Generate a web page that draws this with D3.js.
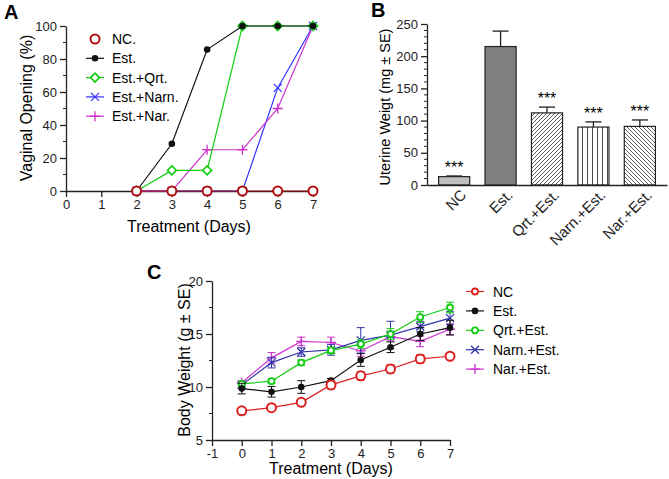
<!DOCTYPE html>
<html><head><meta charset="utf-8">
<script src="https://cdn.jsdelivr.net/npm/d3@7"></script>
<style>body{margin:0;background:#fff}svg{font-family:"Liberation Sans",Arial,sans-serif}</style>
</head><body>
<script>
// ---- Panel A data ----
const daysA = [0,1,2,3,4,5,6,7];
const seriesA = ["NC.","Est.","Est.+Qrt.","Est.+Narn.","Est.+Nar."];
const dA_days = [2,3,4,5,6,7];
const vA_NC   = [0,0,0,0,0,0];
const vA_Est  = [0,28.6,85.7,100,100,100];
const vA_Qrt  = [0,12.5,12.5,100,100,100];
const vA_Narn = [0,0,0,0,62.5,100];
const vA_Nar  = [0,0,25,25,50,100];
const ticksA_y = [0,20,40,60,80,100];
// ---- Panel B data ----
const catsB = ["NC","Est.","Qrt.+Est.","Narn.+Est.","Nar.+Est."];
const valsB = [13,215,112,90,91];
const errB  = [1,24,9,8,10];
const sigB  = ["***","","***","***","***"];
const ticksB_y = [0,50,100,150,200,250];
// ---- Panel C data ----
const daysC = [0,1,2,3,4,5,6,7];
const seriesC = ["NC","Est.","Qrt.+Est.","Narn.+Est.","Nar.+Est."];
const vC_NC   = [7.75,8.05,8.55,10.2,11.05,11.7,12.65,12.9];
const eC_NC   = [0.2,0.25,0.25,0.4,0.4,0.4,0.4,0.25];
const vC_Est  = [9.85,9.55,10.0,10.6,12.55,13.75,15.0,15.6];
const eC_Est  = [0.5,0.5,0.6,0.2,0.6,0.5,0.6,0.7];
const vC_Qrt  = [10.3,10.55,12.3,13.45,14.05,15.0,16.6,17.5];
const eC_Qrt  = [0.2,0.2,0.25,0.3,0.4,0.5,0.5,0.5];
const vC_Narn = [10.2,12.3,13.3,13.5,14.4,14.9,15.7,16.5];
const eC_Narn = [0.2,0.5,0.4,0.5,1.2,1.3,0.5,0.6];
const vC_Nar  = [10.4,12.75,14.3,14.2,13.4,14.75,14.3,15.45];
const eC_Nar  = [0.2,0.5,0.4,0.5,0.5,0.4,0.5,0.5];
const ticksC_y = [5,10,15,20];
const ticksC_x = [-1,0,1,2,3,4,5,6,7];

const W=669,H=479;
const svg=d3.select("body").append("svg").attr("width",W).attr("height",H);
const defs=svg.append("defs");
function hatch(id,lines){
  const p=defs.append("pattern").attr("id",id).attr("patternUnits","userSpaceOnUse").attr("width",4).attr("height",4);
  p.append("rect").attr("width",4).attr("height",4).attr("fill","#fff");
  lines.forEach(l=>p.append("path").attr("d",l).attr("stroke","#333").attr("stroke-width",0.8));
}
hatch("hFwd",["M-1,1 L1,-1","M0,4 L4,0","M3,5 L5,3"]);
hatch("hBack",["M-1,3 L1,5","M0,0 L4,4","M3,-1 L5,1"]);
const pv=defs.append("pattern").attr("id","hVert").attr("patternUnits","userSpaceOnUse").attr("width",5).attr("height",5);
pv.append("rect").attr("width",5).attr("height",5).attr("fill","#fff");
pv.append("path").attr("d","M2.5,0 L2.5,5").attr("stroke","#333").attr("stroke-width",0.9);

const fmt = d => String(d);
function marker(g,type,x,y,color){
  if(type==="circle") g.append("circle").attr("cx",x).attr("cy",y).attr("r",4.5).attr("fill","#fff").attr("stroke",color).attr("stroke-width",2);
  else if(type==="smallcircle") g.append("circle").attr("cx",x).attr("cy",y).attr("r",3).attr("fill","#fff").attr("stroke",color).attr("stroke-width",1.8);
  else if(type==="dot") g.append("circle").attr("cx",x).attr("cy",y).attr("r",3.3).attr("fill",color);
  else if(type==="diamond") g.append("path").attr("d",`M${x},${y-4.5}L${x+4.5},${y}L${x},${y+4.5}L${x-4.5},${y}Z`).attr("fill","#fff").attr("stroke",color).attr("stroke-width",1.6);
  else if(type==="x") g.append("path").attr("d",`M${x-4},${y-4}L${x+4},${y+4}M${x-4},${y+4}L${x+4},${y-4}`).attr("stroke",color).attr("stroke-width",1.3);
  else if(type==="plus") g.append("path").attr("d",`M${x-5},${y}L${x+5},${y}M${x},${y-5}L${x},${y+5}`).attr("stroke",color).attr("stroke-width",1.3);
}
function styleAxis(g){g.selectAll("path,line").attr("stroke","#222").attr("stroke-width",1.3);g.selectAll("text").attr("fill","#222").style("font-size","13px");}
function minorTicks(g,scale,vals,len){
  vals.forEach(v=>{const p=scale(v);
    g.append("line").attr("x1",0).attr("x2",-len).attr("y1",p).attr("y2",p).attr("stroke","#222").attr("stroke-width",1);
  });
}

// ================= Panel A =================
{
const x=d3.scaleLinear().domain([0,7]).range([66,313]);
const y=d3.scaleLinear().domain([0,100]).range([191,26]);
const gA=svg.append("g");
const ya=gA.append("g").attr("transform","translate(66,0)").call(d3.axisLeft(y).tickValues(ticksA_y).tickFormat(fmt).tickSize(6).tickSizeOuter(0).tickPadding(3));
styleAxis(ya);
const ym=gA.append("g").attr("transform","translate(66,0)");
minorTicks(ym,y,[10,30,50,70,90],3);
const xa=gA.append("g").attr("transform","translate(0,191)").call(d3.axisBottom(x).tickValues(daysA).tickFormat(fmt).tickSize(6).tickSizeOuter(0).tickPadding(3));
styleAxis(xa);
gA.append("text").attr("x",189).attr("y",232).attr("text-anchor","middle").style("font-size","16px").text("Treatment (Days)");
gA.append("text").attr("transform","translate(32,108) rotate(-90)").attr("text-anchor","middle").style("font-size","16px").text("Vaginal Opening (%)");
gA.append("text").attr("x",4).attr("y",19).style("font-size","20px").style("font-weight","bold").text("A");
const defsA=[
  {vals:vA_Narn,color:"#3333ff",m:"x"},
  {vals:vA_Nar,color:"#cc33cc",m:"plus"},
  {vals:vA_Qrt,color:"#11cc11",m:"diamond"},
  {vals:vA_Est,color:"#111",m:"dot"},
  {vals:vA_NC,color:"#b01010",m:"circle"}];
const line=d3.line().x((d,i)=>x(dA_days[i])).y(d=>y(d));
defsA.forEach(s=>{
  gA.append("path").datum(s.vals).attr("d",line).attr("fill","none").attr("stroke",s.color).attr("stroke-width",1.2);
  s.vals.forEach((v,i)=>marker(gA,s.m,x(dA_days[i]),y(v),s.color));
});
const legA=[{c:"#b01010",m:"circle",line:false},{c:"#111",m:"dot",line:true},{c:"#11cc11",m:"diamond",line:true},{c:"#3333ff",m:"x",line:true},{c:"#cc33cc",m:"plus",line:true}];
seriesA.forEach((n,i)=>{
  const yy=39+i*19.3;
  if(legA[i].line) gA.append("line").attr("x1",86).attr("x2",104).attr("y1",yy).attr("y2",yy).attr("stroke",legA[i].c).attr("stroke-width",1.2);
  marker(gA,legA[i].m,95,yy,legA[i].c);
  gA.append("text").attr("x",112).attr("y",yy+5).style("font-size","14px").text(n);
});
}

// ================= Panel B =================
{
const x=d3.scaleBand().domain(catsB).range([427,667]).paddingInner(0.33).paddingOuter(0.25);
const y=d3.scaleLinear().domain([0,250]).range([185,24]);
const gB=svg.append("g");
const ya=gB.append("g").attr("transform","translate(427,0)").call(d3.axisLeft(y).tickValues(ticksB_y).tickFormat(fmt).tickSize(6).tickSizeOuter(0).tickPadding(3));
styleAxis(ya);
const ym=gB.append("g").attr("transform","translate(427,0)");
minorTicks(ym,y,d3.range(10,250,10).filter(v=>v%50!==0),3);
const fills=["#c0c0c0","#808080","url(#hFwd)","url(#hVert)","url(#hBack)"];
catsB.forEach((c,i)=>{
  const cx=x(c)+x.bandwidth()/2;
  gB.append("line").attr("x1",cx).attr("x2",cx).attr("y1",y(valsB[i])).attr("y2",y(valsB[i]+errB[i])).attr("stroke","#222").attr("stroke-width",1.3);
  gB.append("line").attr("x1",cx-8).attr("x2",cx+8).attr("y1",y(valsB[i]+errB[i])).attr("y2",y(valsB[i]+errB[i])).attr("stroke","#222").attr("stroke-width",1.3);
  gB.append("rect").attr("x",x(c)).attr("y",y(valsB[i])).attr("width",x.bandwidth()).attr("height",y(0)-y(valsB[i])).attr("fill",fills[i]).attr("stroke","#222").attr("stroke-width",1.2);
  if(sigB[i]) gB.append("text").attr("x",cx).attr("y",y(valsB[i]+errB[i])-3).attr("text-anchor","middle").style("font-size","16px").text(sigB[i]);
});
const xa=gB.append("g").attr("transform","translate(0,185)").call(d3.axisBottom(x).tickSize(0).tickSizeOuter(0).tickPadding(8));
xa.selectAll("path").attr("stroke","#222").attr("stroke-width",1.3);
xa.selectAll("text").attr("fill","#222").style("font-size","15px").attr("text-anchor","end").attr("transform","rotate(-45)").attr("dx","0.1em").attr("dy","0.6em");
gB.append("text").attr("transform","translate(390,107) rotate(-90)").attr("text-anchor","middle").style("font-size","14.5px").text("Uterine Weigt (mg \u00b1 SE)");
gB.append("text").attr("x",371).attr("y",17).style("font-size","20px").style("font-weight","bold").text("B");
}

// ================= Panel C =================
{
const x=d3.scaleLinear().domain([-1,7]).range([212,450]);
const y=d3.scaleLinear().domain([5,20]).range([440,281]);
const gC=svg.append("g");
const ya=gC.append("g").attr("transform","translate(212,0)").call(d3.axisLeft(y).tickValues(ticksC_y).tickFormat(fmt).tickSize(6).tickSizeOuter(0).tickPadding(3));
styleAxis(ya);
const ym=gC.append("g").attr("transform","translate(212,0)");
minorTicks(ym,y,[7.5,12.5,17.5],3);
const xa=gC.append("g").attr("transform","translate(0,440)").call(d3.axisBottom(x).tickValues(ticksC_x).tickFormat(fmt).tickSize(6).tickSizeOuter(0).tickPadding(3));
styleAxis(xa);
gC.append("text").attr("x",331).attr("y",474).attr("text-anchor","middle").style("font-size","16px").text("Treatment (Days)");
gC.append("text").attr("transform","translate(190,360) rotate(-90)").attr("text-anchor","middle").style("font-size","16px").text("Body Weight (g \u00b1 SE)");
gC.append("text").attr("x",147).attr("y",279).style("font-size","20px").style("font-weight","bold").text("C");
const sC=[
  {v:vC_NC,e:eC_NC,c:"#dd2020",m:"circle"},
  {v:vC_Est,e:eC_Est,c:"#111",m:"dot"},
  {v:vC_Qrt,e:eC_Qrt,c:"#11cc11",m:"smallcircle"},
  {v:vC_Narn,e:eC_Narn,c:"#3333aa",m:"x"},
  {v:vC_Nar,e:eC_Nar,c:"#cc33cc",m:"plus"}];
const line=d3.line().x((d,i)=>x(daysC[i])).y(d=>y(d));
[4,3,2,1,0].forEach(k=>{
  const s=sC[k];
  s.v.forEach((v,i)=>{
    const cx=x(daysC[i]);
    gC.append("line").attr("x1",cx).attr("x2",cx).attr("y1",y(v-s.e[i])).attr("y2",y(v+s.e[i])).attr("stroke",s.c).attr("stroke-width",1);
    [v-s.e[i],v+s.e[i]].forEach(t=>gC.append("line").attr("x1",cx-4).attr("x2",cx+4).attr("y1",y(t)).attr("y2",y(t)).attr("stroke",s.c).attr("stroke-width",1));
  });
  gC.append("path").datum(s.v).attr("d",line).attr("fill","none").attr("stroke",s.c).attr("stroke-width",1.2);
  s.v.forEach((v,i)=>marker(gC,s.m,x(daysC[i]),y(v),s.c));
});
seriesC.forEach((n,i)=>{
  const yy=291.5+i*19.4;const s=sC[i];
  gC.append("line").attr("x1",466).attr("x2",484).attr("y1",yy).attr("y2",yy).attr("stroke",s.c).attr("stroke-width",1.2);
  marker(gC,s.m==="circle"?"smallcircle":s.m,475,yy,s.c);
  gC.append("text").attr("x",493).attr("y",yy+5).style("font-size","14px").text(n);
});
}
</script>
</body></html>
